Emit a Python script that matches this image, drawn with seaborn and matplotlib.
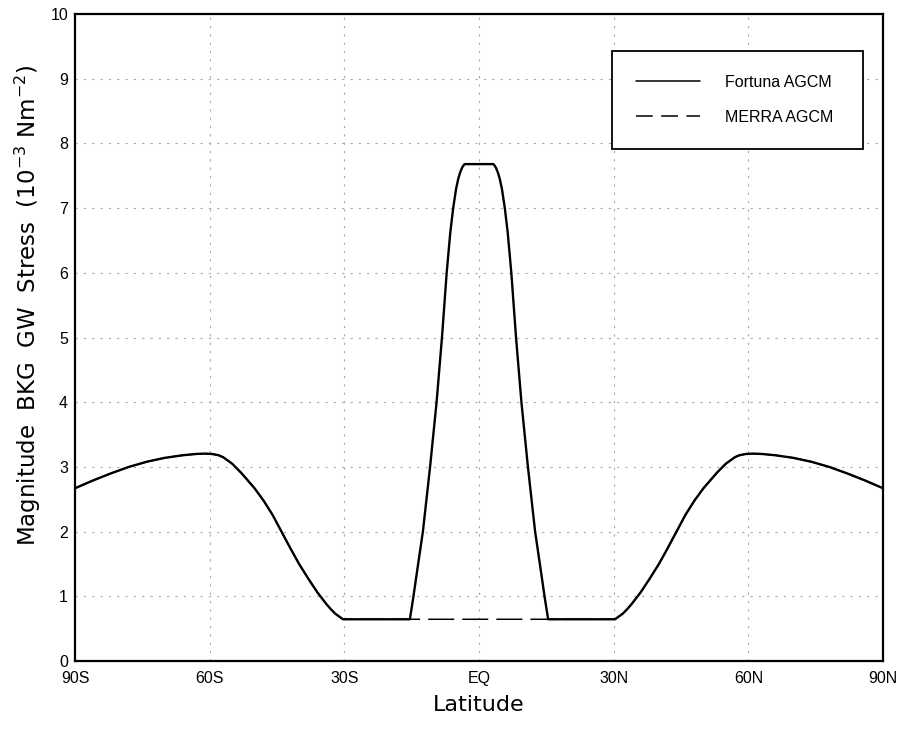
import numpy as np
import pandas as pd
import matplotlib
matplotlib.use("Agg")
import matplotlib.pyplot as plt
import seaborn as sns

# ---- data ----
lat = [-90, -86, -82, -78, -74, -70, -66, -63, -61, -59.5, -58, -57, -56, -55, -54, -53, -52, -50,
       -48, -46, -44, -42, -40, -38, -36, -34, -33, -32, -31, -30.3,
       -15.4, -14.6, -13.6, -12.5, -10.9, -9.45, -8.25, -7.2, -6.4, -5.75, -5.1, -4.6, -4.2, -3.8, -3.45, -3.2,
       3.2, 3.45, 3.8, 4.2, 4.6, 5.1, 5.75, 6.4, 7.2, 8.25, 9.45, 10.9, 12.5, 13.6, 14.6, 15.4,
       30.3, 31, 32, 33, 34, 36, 38, 40, 42, 44, 46, 48, 50, 52, 53, 54, 55, 56, 57, 58, 59.5, 61, 63,
       66, 70, 74, 78, 82, 86, 90]

fortuna = [2.67, 2.79, 2.90, 3.00, 3.08, 3.14, 3.18, 3.20, 3.205, 3.20, 3.18, 3.15, 3.10, 3.05, 2.98, 2.91, 2.83, 2.67,
           2.48, 2.26, 2.00, 1.74, 1.49, 1.27, 1.06, 0.88, 0.80, 0.73, 0.68, 0.645,
           0.645, 1.00, 1.48, 2.00, 3.00, 4.00, 5.00, 6.00, 6.62, 7.00, 7.30, 7.46, 7.55, 7.62, 7.66, 7.68,
           7.68, 7.66, 7.62, 7.55, 7.46, 7.30, 7.00, 6.62, 6.00, 5.00, 4.00, 3.00, 2.00, 1.48, 1.00, 0.645,
           0.645, 0.68, 0.73, 0.80, 0.88, 1.06, 1.27, 1.49, 1.74, 2.00, 2.26, 2.48, 2.67, 2.83, 2.91, 2.98, 3.05, 3.10, 3.15, 3.18, 3.20, 3.205, 3.20,
           3.18, 3.14, 3.08, 3.00, 2.90, 2.79, 2.67]

merra = [2.67, 2.79, 2.90, 3.00, 3.08, 3.14, 3.18, 3.20, 3.205, 3.20, 3.18, 3.15, 3.10, 3.05, 2.98, 2.91, 2.83, 2.67,
         2.48, 2.26, 2.00, 1.74, 1.49, 1.27, 1.06, 0.88, 0.80, 0.73, 0.68, 0.645,
         0.645, 0.645, 0.645, 0.645, 0.645, 0.645, 0.645, 0.645, 0.645, 0.645, 0.645, 0.645, 0.645, 0.645, 0.645, 0.645,
         0.645, 0.645, 0.645, 0.645, 0.645, 0.645, 0.645, 0.645, 0.645, 0.645, 0.645, 0.645, 0.645, 0.645, 0.645, 0.645,
         0.645, 0.68, 0.73, 0.80, 0.88, 1.06, 1.27, 1.49, 1.74, 2.00, 2.26, 2.48, 2.67, 2.83, 2.91, 2.98, 3.05, 3.10, 3.15, 3.18, 3.20, 3.205, 3.20,
         3.18, 3.14, 3.08, 3.00, 2.90, 2.79, 2.67]

series_names = ["Fortuna AGCM", "MERRA AGCM"]
xtick_pos = [-90, -60, -30, 0, 30, 60, 90]
xtick_labels = ["90S", "60S", "30S", "EQ", "30N", "60N", "90N"]
ytick_pos = list(range(0, 11))

# ---- style ----
sns.set_theme(style="white")
plt.rcParams["font.family"] = ["Liberation Sans Narrow", "Liberation Sans", "DejaVu Sans"]
plt.rcParams["mathtext.fontset"] = "dejavusans"
plt.rcParams["text.color"] = "black"
plt.rcParams["axes.labelcolor"] = "black"

fig = plt.figure(figsize=(9.06, 7.30), dpi=100)
ax = fig.add_axes([75 / 906, 1 - 661 / 730, 808 / 906, 647 / 730])

df_f = pd.DataFrame({"lat": lat, "val": fortuna})
df_m = pd.DataFrame({"lat": lat, "val": merra})

sns.lineplot(data=df_f, x="lat", y="val", ax=ax, color="black", lw=1.7,
             label=series_names[0], zorder=3)
sns.lineplot(data=df_m, x="lat", y="val", ax=ax, color="black", lw=1.1,
             dashes=False, label=series_names[1], zorder=2)
ax.lines[1].set_dashes((17, 5.3))

ax.set_xlim(-90, 90)
ax.set_ylim(0, 10)
ax.set_xticks(xtick_pos)
ax.set_xticklabels(xtick_labels)
ax.set_yticks(ytick_pos)

# grid
for x in [-60, -30, 0, 30, 60]:
    ax.axvline(x, color="#a8a8a8", lw=0.8, dashes=(2, 5.5), zorder=1)
for y in range(1, 10):
    ax.axhline(y, color="#a8a8a8", lw=0.8, dashes=(2, 5.5), zorder=1)

for s in ax.spines.values():
    s.set_color("black")
    s.set_linewidth(1.6)
    s.set_visible(True)

ax.tick_params(axis="both", which="major", direction="out", length=4, width=0.8,
               color="black", labelsize=11.5, colors="black")
ax.tick_params(axis="y", pad=1)
ax.tick_params(axis="x", pad=3)

ax.set_xlabel("Latitude", fontsize=16, labelpad=7, family=["DejaVu Sans"], color="black")
ax.set_ylabel(r"Magnitude  BKG  GW  Stress  (10$^{-3}$ Nm$^{-2}$)", fontsize=16.5,
              family=["DejaVu Sans"], color="black")
ax.yaxis.set_label_coords(-0.040, 0.55)

leg = ax.legend(loc="upper left", bbox_to_anchor=(0.6646, 0.796, 0.3104, 0.147),
                mode="expand", frameon=True, fancybox=False, fontsize=11.5,
                borderpad=1.5, labelspacing=1.25, handlelength=4.0,
                handletextpad=1.6, borderaxespad=0, labelcolor="black")
frame = leg.get_frame()
frame.set_edgecolor("black")
frame.set_linewidth(1.3)
frame.set_facecolor("white")
frame.set_alpha(1)
leg.legend_handles[1].set_dashes((11, 5.5))
leg.legend_handles[1].set_linewidth(1.1)
leg.legend_handles[0].set_linewidth(1.1)

fig.savefig("out.png", dpi=100)
